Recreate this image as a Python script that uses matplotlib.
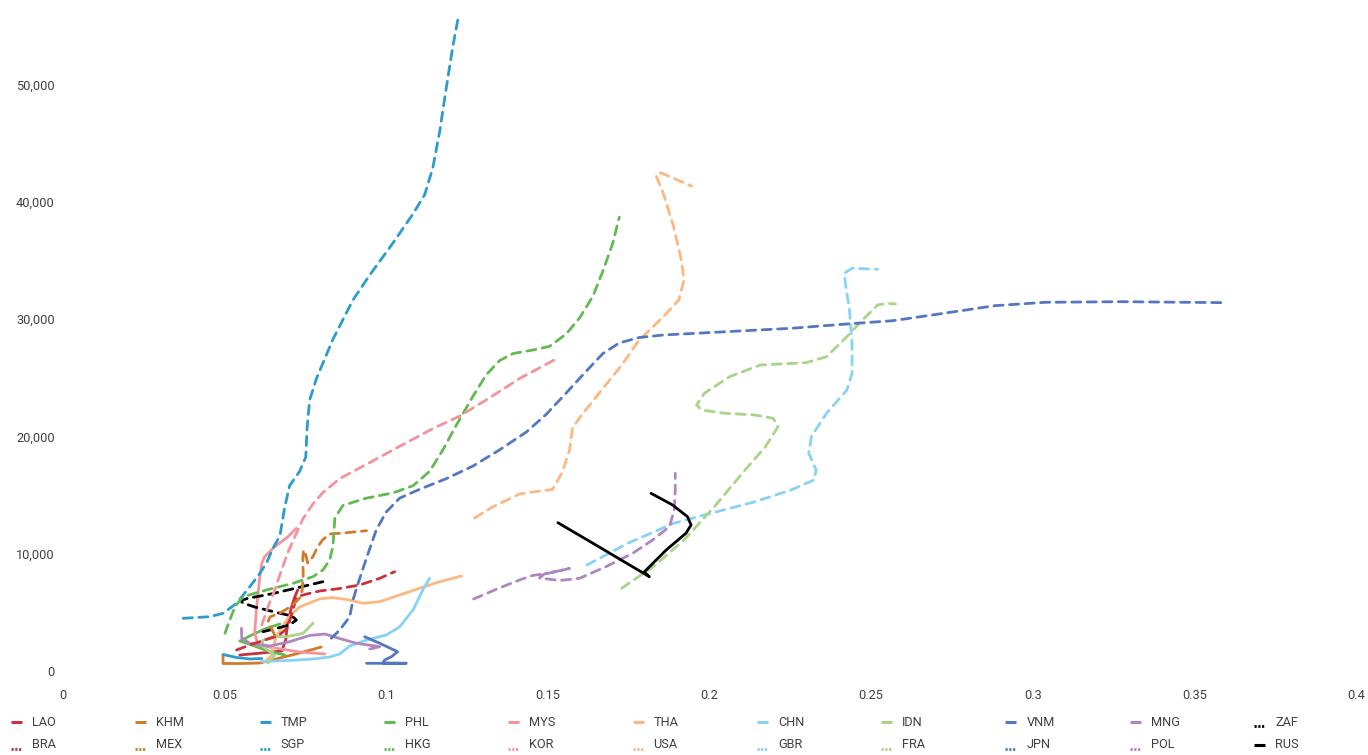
import matplotlib
matplotlib.use("Agg")
import matplotlib.pyplot as plt
from matplotlib.lines import Line2D
from matplotlib.ticker import FuncFormatter, FixedLocator

plt.rcParams['font.family'] = ['Roboto', 'DejaVu Sans']

# ---------------- data (x = ratio, y = GDP per capita) ----------------
LAO_x = [0.0547, 0.0615, 0.0677, 0.0689, 0.0695, 0.0707, 0.0717, 0.0726]
LAO_y = [1364, 1534, 1705, 2642, 4176, 5455, 6307, 6904]

KHM_x = [0.0495, 0.0495, 0.0556, 0.0609, 0.0671, 0.0732, 0.0799]
KHM_y = [1364, 639, 639, 682, 1108, 1534, 2046]

TMP_x = [0.0495, 0.0537, 0.0578, 0.0615]
TMP_y = [1406, 1151, 1023, 1065]

PHL_x = [0.0686, 0.0634, 0.0584, 0.0547, 0.0578, 0.0624, 0.0671]
PHL_y = [1364, 1705, 2216, 2557, 2983, 3580, 4006]

MYS_x = [0.0810, 0.0732, 0.0655, 0.0603, 0.0593, 0.0599, 0.0609, 0.0615, 0.0624, 0.0655, 0.0696, 0.0722]
MYS_y = [1449, 1619, 1960, 2216, 3239, 5480, 8037, 9205, 9742, 10594, 11446, 12162]

THA_x = [0.0624, 0.0643, 0.0649, 0.0661, 0.0680, 0.0701, 0.0732, 0.0769, 0.0794, 0.0834,
         0.0887, 0.0927, 0.0980, 0.1041, 0.1103, 0.1165, 0.1233]
THA_y = [767, 1278, 1960, 2983, 3835, 4688, 5455, 5881, 6137, 6264,
         6051, 5770, 5906, 6477, 7049, 7611, 8097]

CHN_x = [0.0615, 0.0701, 0.0773, 0.0825, 0.0856, 0.0887, 0.0939, 0.1000, 0.1041, 0.1083, 0.1113, 0.1134]
CHN_y = [810, 895, 1023, 1193, 1449, 2131, 2642, 3068, 3750, 5199, 6904, 7901]

IDN_x = [0.0634, 0.0655, 0.0624, 0.0615, 0.0649, 0.0692, 0.0743, 0.0774]
IDN_y = [682, 1364, 1960, 2557, 2940, 2923, 3213, 4091]

VNM_x = [0.0939, 0.1062, 0.0990, 0.0995, 0.1017, 0.1035, 0.0980, 0.0933]
VNM_y = [656, 656, 682, 938, 1236, 1645, 2361, 2923]

MNG_x = [0.0552, 0.0553, 0.0578, 0.0640, 0.0701, 0.0763, 0.0810, 0.0856, 0.0908, 0.0980, 0.0949]
MNG_y = [3639, 2813, 2361, 2131, 2497, 3026, 3154, 2770, 2361, 2071, 1875]

ZAF_x = [0.0619, 0.0661, 0.0701, 0.0722, 0.0708, 0.0655, 0.0593, 0.0556, 0.0550, 0.0572, 0.0643, 0.0722, 0.0804]
ZAF_y = [3350, 3639, 3921, 4347, 4688, 5029, 5455, 5796, 6009, 6196, 6563, 7074, 7611]

BRA_x = [0.0537, 0.0578, 0.0624, 0.0665, 0.0695, 0.0711, 0.0723, 0.0748, 0.0794, 0.0856, 0.0918, 0.0980, 0.1026]
BRA_y = [1790, 2216, 2642, 2983, 3665, 5199, 6307, 6520, 6818, 7031, 7330, 7901, 8463]

MEX_x = [0.0655, 0.0634, 0.0640, 0.0677, 0.0707, 0.0732, 0.0740, 0.0743, 0.0742, 0.0744,
         0.0751, 0.0757, 0.0773, 0.0788, 0.0803, 0.0825, 0.0877, 0.0939]
MEX_y = [3068, 4176, 4602, 5029, 5540, 6222, 6904, 8012, 9631, 10313,
         9887, 9205, 9742, 10594, 11165, 11677, 11787, 11958]

SGP_x = [0.0372, 0.0454, 0.0495, 0.0537, 0.0578, 0.0609, 0.0629, 0.0650, 0.0671, 0.0686,
         0.0701, 0.0732, 0.0751, 0.0755, 0.0763, 0.0784, 0.0835, 0.0897, 0.0949, 0.1021,
         0.1082, 0.1119, 0.1144, 0.1165, 0.1185, 0.1206, 0.1223]
SGP_y = [4492, 4628, 4918, 5770, 7185, 8327, 9179, 10483, 11532, 13969,
         15793, 17012, 18231, 20660, 23097, 24921, 28271, 31620, 33751, 36487,
         38924, 40604, 42879, 45930, 49578, 53235, 55732]

HKG_x = [0.0501, 0.0516, 0.0532, 0.0557, 0.0629, 0.0712, 0.0773, 0.0804, 0.0825, 0.0835,
         0.0841, 0.0866, 0.0938, 0.1021, 0.1083, 0.1134, 0.1175, 0.1217, 0.1268, 0.1309,
         0.1350, 0.1392, 0.1453, 0.1505, 0.1557, 0.1598, 0.1639, 0.1670, 0.1701, 0.1721]
HKG_y = [3213, 4347, 5480, 6333, 6904, 7475, 8037, 8608, 9461, 10620,
         13049, 14114, 14728, 15180, 15793, 17012, 18836, 20967, 23404, 25228,
         26447, 27052, 27359, 27666, 28731, 30095, 31927, 34058, 36487, 38685]

KOR_x = [0.0615, 0.0634, 0.0655, 0.0676, 0.0695, 0.0717, 0.0742, 0.0773, 0.0803, 0.0856,
         0.0939, 0.1041, 0.1144, 0.1227, 0.1309, 0.1412, 0.1526]
KOR_y = [3921, 5455, 6904, 8608, 10057, 11421, 12955, 14233, 15171, 16398,
         17617, 19143, 20660, 21725, 23097, 24921, 26600]

USA_x = [0.1273, 0.1329, 0.1412, 0.1474, 0.1514, 0.1545, 0.1567, 0.1576, 0.1607, 0.1669,
         0.1731, 0.1780, 0.1857, 0.1905, 0.1921, 0.1913, 0.1889, 0.1857, 0.1834, 0.1849,
         0.1889, 0.1944]
USA_y = [13040, 13978, 15086, 15341, 15469, 16961, 18836, 20711, 21904, 24035,
         26166, 28126, 30197, 31619, 33325, 35030, 37868, 40714, 42274, 42470,
         41993, 41337]

GBR_x = [0.1621, 0.1747, 0.1889, 0.1984, 0.2141, 0.2252, 0.2323, 0.2330, 0.2307, 0.2315,
         0.2362, 0.2425, 0.2441, 0.2441, 0.2433, 0.2422, 0.2417, 0.2441, 0.2520]
GBR_y = [9034, 10884, 12589, 13296, 14430, 15427, 16279, 17131, 18555, 19969,
         21964, 23950, 25373, 27930, 30768, 32754, 33896, 34322, 34237]

FRA_x = [0.1728, 0.1826, 0.1921, 0.2015, 0.2110, 0.2173, 0.2212, 0.2197, 0.2141, 0.2047,
         0.1976, 0.1960, 0.1984, 0.2062, 0.2157, 0.2299, 0.2362, 0.2425, 0.2473, 0.2520,
         0.2551, 0.2575]
FRA_y = [7049, 8890, 11165, 14003, 17131, 19117, 20822, 21538, 21819, 21964,
         22245, 22671, 23669, 25083, 26080, 26276, 26788, 28492, 29916, 31194,
         31339, 31279]

JPN_x = [0.0830, 0.0856, 0.0887, 0.0897, 0.0913, 0.0939, 0.0969, 0.1000, 0.1041, 0.1103,
         0.1186, 0.1268, 0.1350, 0.1433, 0.1495, 0.1557, 0.1618, 0.1670, 0.1721, 0.1783,
         0.1857, 0.2015, 0.2252, 0.2425, 0.2567, 0.2725, 0.2882, 0.3040, 0.3276, 0.3600]
JPN_y = [2787, 3494, 4628, 6051, 7475, 9631, 12017, 13552, 14728, 15486,
         16398, 17464, 18836, 20361, 21879, 23702, 25535, 27052, 27964, 28424,
         28637, 28867, 29208, 29575, 29856, 30487, 31135, 31425, 31476, 31391]

POL_x = [0.1270, 0.1350, 0.1412, 0.1452, 0.1505, 0.1567, 0.1489, 0.1474, 0.1536, 0.1598,
         0.1680, 0.1762, 0.1824, 0.1876, 0.1891, 0.1894, 0.1894]
POL_y = [6137, 7074, 7756, 8139, 8353, 8736, 8267, 7926, 7713, 7901,
         8890, 10032, 11165, 12299, 13722, 15427, 16850]

RUS_x = [0.1531, 0.1659, 0.1814, 0.1798, 0.1866, 0.1927, 0.1943, 0.1932, 0.1886, 0.1819]
RUS_y = [12640, 10568, 8037, 8438, 10313, 11736, 12444, 13151, 14148, 15145]

# legend order (row 1 solid, row 2 dashed)
row1 = ['LAO', 'KHM', 'TMP', 'PHL', 'MYS', 'THA', 'CHN', 'IDN', 'VNM', 'MNG', 'ZAF']
row2 = ['BRA', 'MEX', 'SGP', 'HKG', 'KOR', 'USA', 'GBR', 'FRA', 'JPN', 'POL', 'RUS']

x_ticks = [0, 0.05, 0.1, 0.15, 0.2, 0.25, 0.3, 0.35, 0.4]
x_tick_labels = ['0', '0.05', '0.1', '0.15', '0.2', '0.25', '0.3', '0.35', '0.4']
y_ticks = [0, 10000, 20000, 30000, 40000, 50000]

# ---------------- styles ----------------
palette = ['#C8323C', '#D27B2A', '#2B9CCB', '#63B953', '#F4949A', '#FDB882',
           '#87D3F5', '#A9D48A', '#5478C0', '#AF86C0', '#000000']

series = {
    'LAO': (LAO_x, LAO_y), 'KHM': (KHM_x, KHM_y), 'TMP': (TMP_x, TMP_y),
    'PHL': (PHL_x, PHL_y), 'MYS': (MYS_x, MYS_y), 'THA': (THA_x, THA_y),
    'CHN': (CHN_x, CHN_y), 'IDN': (IDN_x, IDN_y), 'VNM': (VNM_x, VNM_y),
    'MNG': (MNG_x, MNG_y), 'ZAF': (ZAF_x, ZAF_y),
    'BRA': (BRA_x, BRA_y), 'MEX': (MEX_x, MEX_y), 'SGP': (SGP_x, SGP_y),
    'HKG': (HKG_x, HKG_y), 'KOR': (KOR_x, KOR_y), 'USA': (USA_x, USA_y),
    'GBR': (GBR_x, GBR_y), 'FRA': (FRA_x, FRA_y), 'JPN': (JPN_x, JPN_y),
    'POL': (POL_x, POL_y), 'RUS': (RUS_x, RUS_y),
}

W, H = 1368, 755
fig = plt.figure(figsize=(W / 100, H / 100), dpi=100)
ax_left, ax_right = 63 / W, 1356 / W
ax_bottom = (H - 671) / H
ymax = 57000
ax_top_px = 671 - ymax / 85.23
ax = fig.add_axes([ax_left, ax_bottom, ax_right - ax_left, (671 - ax_top_px) / H])

LW = 2.0
DASH = (0, (3.3, 2.3))

styles = {}
for i, name in enumerate(row1):
    col = palette[i]
    ls = '-' if name != 'ZAF' else DASH
    styles[name] = (col, ls)
for i, name in enumerate(row2):
    col = palette[i]
    ls = DASH if name != 'RUS' else '-'
    styles[name] = (col, ls)

for name in row1 + row2:
    xs, ys = series[name]
    col, ls = styles[name]
    ax.plot(xs, ys, color=col, linestyle=ls, linewidth=LW,
            solid_joinstyle='round', solid_capstyle='round', dash_capstyle='round',
            dash_joinstyle='round')

ax.set_xlim(0, 0.4)
ax.set_ylim(0, ymax)
ax.xaxis.set_major_locator(FixedLocator(x_ticks))
ax.set_xticklabels(x_tick_labels)
ax.yaxis.set_major_locator(FixedLocator(y_ticks))
ax.yaxis.set_major_formatter(FuncFormatter(lambda v, p: f"{int(v):,}"))
for s in ax.spines.values():
    s.set_visible(False)
ax.tick_params(axis='both', length=0, labelsize=9.2, labelcolor='#404040')
ax.tick_params(axis='x', pad=13)
ax.tick_params(axis='y', pad=6)

# ---------------- legend (two rows, uniform pitch) ----------------
col_x0 = 11
pitch = 124.3
for r, names in enumerate([row1, row2]):
    ypx = 722 + r * 23
    for c, name in enumerate(names):
        col, ls = styles[name]
        hx = col_x0 + c * pitch
        yf = 1 - ypx / H
        if ls == '-':
            fig.add_artist(Line2D([hx / W, (hx + 11) / W], [yf, yf], color=col,
                                  linewidth=2.2, solid_capstyle='butt'))
        else:
            fig.add_artist(Line2D([hx / W, (hx + 11) / W], [yf - 4 / H, yf - 4 / H], color=col,
                                  linewidth=2.0, linestyle=(0, (0.8, 0.55)), dash_capstyle='butt'))
        fig.text((hx + 21) / W, yf, name, fontsize=9.2, color='#404040',
                 ha='left', va='center')

fig.savefig('out.png', dpi=100)
